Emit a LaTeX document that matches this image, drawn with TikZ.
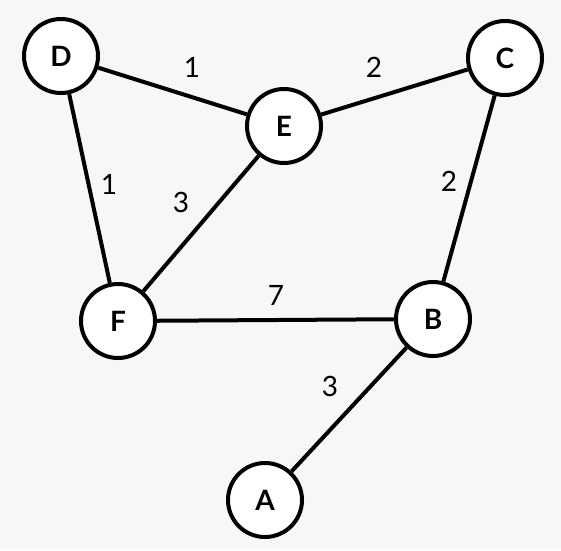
\documentclass[tikz,border=0pt]{standalone}
\usepackage{fontspec}
\setmainfont{Lato}
\definecolor{bg}{HTML}{F7F7F7}
\begin{document}
\begin{tikzpicture}[x=1pt,y=-1pt,
  vert/.style={circle,draw=black,fill=white,line width=4pt,minimum size=74pt,inner sep=0pt,font=\fontsize{28}{28}\selectfont\bfseries},
  edge/.style={line width=4pt,black},
  wt/.style={font=\fontsize{28}{28}\selectfont}]
\fill[bg] (0,0) rectangle (561,550);
\useasboundingbox (0,0) rectangle (561,550);
\node[vert] (D) at (61,56) {D};
\node[vert] (E) at (284,126) {E};
\node[vert] (C) at (505,58) {C};
\node[vert] (F) at (118,321) {F};
\node[vert] (B) at (433,319) {B};
\node[vert] (A) at (265,500) {A};
\draw[edge] (D) -- (E);
\draw[edge] (E) -- (C);
\draw[edge] (D) -- (F);
\draw[edge] (E) -- (F);
\draw[edge] (C) -- (B);
\draw[edge] (F) -- (B);
\draw[edge] (B) -- (A);
\node[wt] (w1) at (192,67) {1};
\node[wt] (w2) at (374,67) {2};
\node[wt] (w3) at (109,184) {1};
\node[wt] (w4) at (181,202) {3};
\node[wt] (w5) at (449,181) {2};
\node[wt] (w6) at (276,295) {7};
\node[wt] (w7) at (330,386) {3};
\end{tikzpicture}
\end{document}
